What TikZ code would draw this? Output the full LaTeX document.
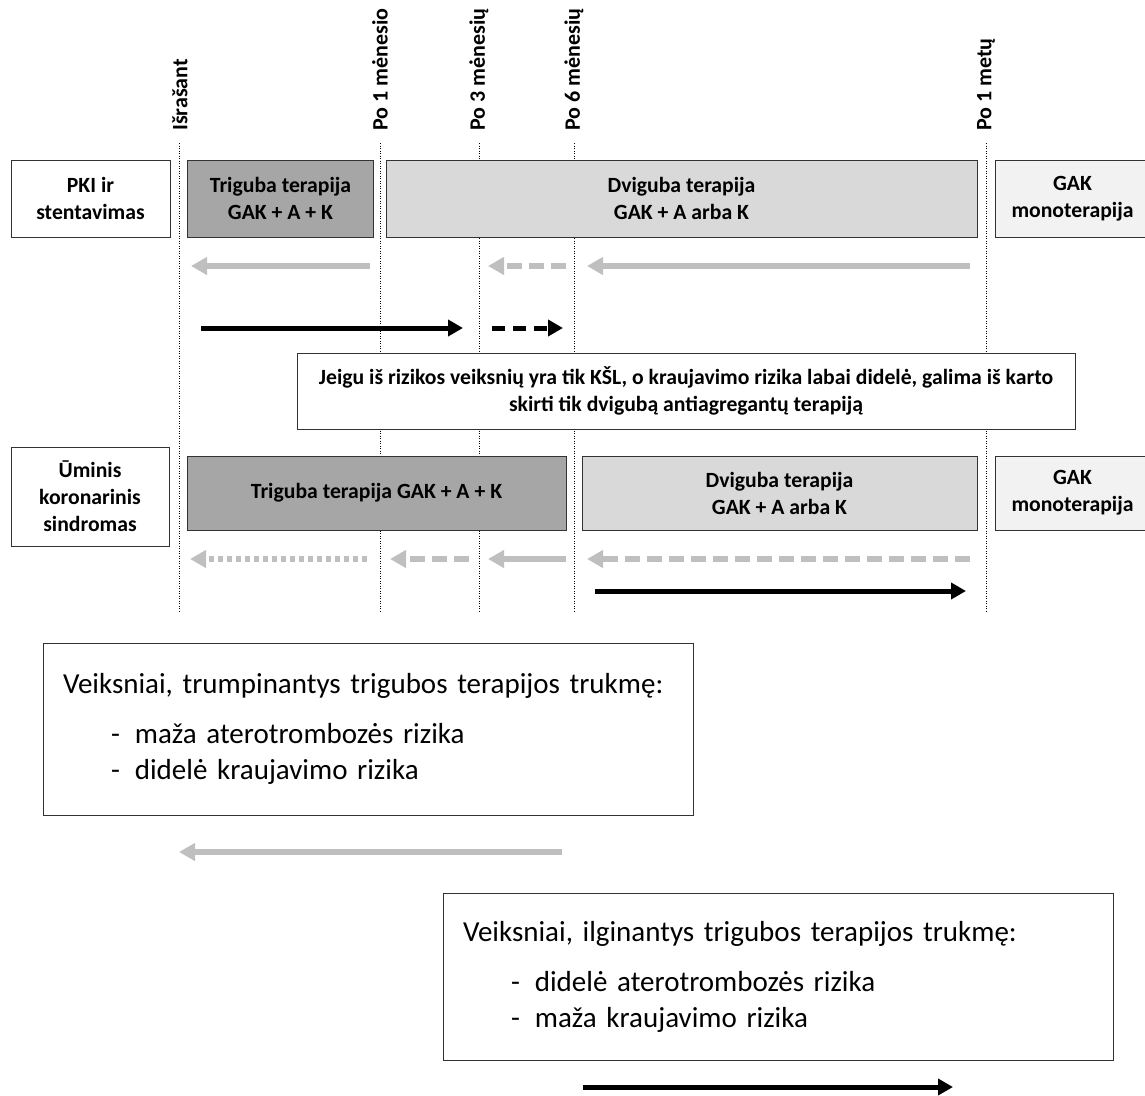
\documentclass[tikz,border=0pt]{standalone}
\usepackage{fontspec}
\setmainfont{Carlito}
\usetikzlibrary{arrows.meta}
\definecolor{darkfill}{HTML}{A6A6A6}
\definecolor{lightfill}{HTML}{D9D9D9}
\definecolor{palefill}{HTML}{F2F2F2}
\definecolor{arrowgray}{HTML}{BFBFBF}

\begin{document}
\begin{tikzpicture}[x=1pt,y=-1pt,
    period/.style ={font=\bfseries\fontsize{22}{26}\selectfont, rotate=90, anchor=west, inner sep=0pt},
    timeline/.style ={line width=1pt, dash pattern=on 1pt off 1.5pt},
    groupbox/.style ={draw=black!80, fill=white, line width=0.9pt, align=center, inner sep=0pt,
                      font=\bfseries\fontsize{21.7}{27}\selectfont},
    triplebox/.style ={groupbox, fill=darkfill},
    dualbox/.style ={groupbox, fill=lightfill},
    monobox/.style ={groupbox, fill=palefill},
    infobox/.style ={groupbox, font=\bfseries\fontsize{21.7}{27}\selectfont},
    factorbox/.style ={draw=black!80, fill=white, line width=0.9pt, align=left, inner xsep=10pt,
                       font=\fontsize{29}{36}\selectfont},
    back/.style ={draw=arrowgray, line width=5.5pt, -{Triangle[length=16pt,width=17pt]}},
    forth/.style ={draw=black, line width=5pt, -{Triangle[length=15pt,width=16pt]}},
    graydash/.style ={dash pattern=on 15pt off 7pt},
    graydot/.style ={dash pattern=on 5pt off 4pt},
    blackdash/.style ={dash pattern=on 13pt off 8pt}]
   \useasboundingbox (0,0) rectangle (1145,1095);

   % time marks
   \coordinate (t0) at (179,143);  \coordinate (b0) at (179,612);
   \coordinate (t1) at (380,143);  \coordinate (b1) at (380,612);
   \coordinate (t2) at (479,143);  \coordinate (b2) at (479,612);
   \coordinate (t3) at (574,143);  \coordinate (b3) at (574,612);
   \coordinate (t4) at (986,143);  \coordinate (b4) at (986,612);
   \draw[timeline] (t0) -- (b0);
   \draw[timeline] (t1) -- (b1);
   \draw[timeline] (t2) -- (b2);
   \draw[timeline] (t3) -- (b3);
   \draw[timeline] (t4) -- (b4);
   \node[period] (p0) at (180,131) {Išrašant};
   \node[period] (p1) at (380,131) {Po 1 mėnesio};
   \node[period] (p2) at (479,131) {Po 3 mėnesių};
   \node[period] (p3) at (574,131) {Po 6 mėnesių};
   \node[period] (p4) at (986,131) {Po 1 metų};

   % PKI
   \node[groupbox, minimum width=159, minimum height=77] (pki) at (90.5,198.5) {PKI ir\\stentavimas};
   \node[triplebox, minimum width=186, minimum height=77] (tri1) at (280.5,198.5) {Triguba terapija\\GAK + A + K};
   \node[dualbox, minimum width=591, minimum height=77] (dual1) at (681.5,198.5) {Dviguba terapija\\GAK + A arba K};
   \node[monobox, minimum width=155, minimum height=77] (mono1) at (1072.5,198.5) {GAK\\monoterapija};

   \coordinate (a1s) at (370,266);  \coordinate (a1e) at (191,266);
   \coordinate (a2s) at (566,266);  \coordinate (a2e) at (488,266);
   \coordinate (a3s) at (970,266);  \coordinate (a3e) at (587,266);
   \draw[back] (a1s) -- (a1e);
   \draw[back, graydash] (a2s) -- (a2e);
   \draw[back] (a3s) -- (a3e);
   \coordinate (f1s) at (201,328);  \coordinate (f1e) at (463,328);
   \coordinate (f2s) at (492,328);  \coordinate (f2e) at (563,328);
   \draw[forth] (f1s) -- (f1e);
   \draw[forth, blackdash] (f2s) -- (f2e);

   \node[infobox, minimum width=778, minimum height=76] (note) at (686,391)
     {Jeigu iš rizikos veiksnių yra tik KŠL, o kraujavimo rizika labai didelė, galima iš karto\\
      skirti tik dvigubą antiagregantų terapiją};

   % UKS
   \node[groupbox, minimum width=158, minimum height=99] (uks) at (90,496.5) {Ūminis\\koronarinis\\sindromas};
   \node[triplebox, minimum width=379, minimum height=74] (tri2) at (376.5,493) {Triguba terapija GAK + A + K};
   \node[dualbox, minimum width=395, minimum height=74] (dual2) at (779.5,493) {Dviguba terapija\\GAK + A arba K};
   \node[monobox, minimum width=155, minimum height=74] (mono2) at (1072.5,493) {GAK\\monoterapija};

   \coordinate (c1s) at (367,559);  \coordinate (c1e) at (190,559);
   \coordinate (c2s) at (469,559);  \coordinate (c2e) at (390,559);
   \coordinate (c3s) at (566,559);  \coordinate (c3e) at (488,559);
   \coordinate (c4s) at (970,559);  \coordinate (c4e) at (587,559);
   \draw[back, graydot] (c1s) -- (c1e);
   \draw[back, graydash] (c2s) -- (c2e);
   \draw[back] (c3s) -- (c3e);
   \draw[back, graydash] (c4s) -- (c4e);
   \coordinate (g1s) at (595,591);  \coordinate (g1e) at (966,591);
   \draw[forth] (g1s) -- (g1e);

   % factors
   \node[factorbox, text width=630, minimum height=172] (shorter) at (368,729)
     {\hspace*{10pt}Veiksniai, trumpinantys trigubos terapijos trukmę:\\[14pt]
      \hspace*{58pt}-\hspace*{15pt}maža aterotrombozės rizika\\
      \hspace*{58pt}-\hspace*{15pt}didelė kraujavimo rizika};
   \coordinate (s1s) at (562,852);  \coordinate (s1e) at (179,852);
   \draw[back] (s1s) -- (s1e);

   \node[factorbox, text width=650, minimum height=167] (longer) at (778,976.5)
     {\hspace*{10pt}Veiksniai, ilginantys trigubos terapijos trukmę:\\[14pt]
      \hspace*{58pt}-\hspace*{15pt}didelė aterotrombozės rizika\\
      \hspace*{58pt}-\hspace*{15pt}maža kraujavimo rizika};
   \coordinate (l1s) at (583,1087);  \coordinate (l1e) at (953,1087);
   \draw[forth] (l1s) -- (l1e);
\end{tikzpicture}
\end{document}
